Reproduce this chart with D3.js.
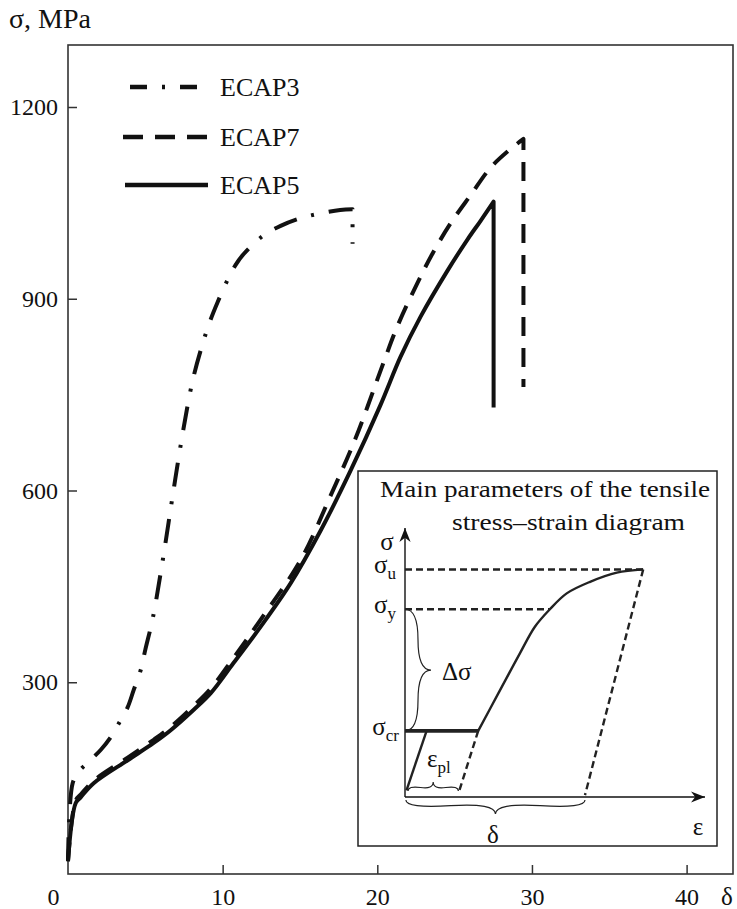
<!DOCTYPE html>
<html>
<head>
<meta charset="utf-8">
<script src="https://cdn.jsdelivr.net/npm/d3@7/dist/d3.min.js"></script>
<style>
	body { margin: 0; background: #fff; }
	svg text { font-family: "Liberation Serif", "DejaVu Serif", serif; fill: #111; }
</style>
</head>
<body>
<svg id="svg-port" width="737" height="909"></svg>
<script>
// strain delta, % and stress sigma, MPa
var ecap3Strain = [0, 0.3, 0.69, 1.27, 2.11, 2.76, 3.41, 3.86, 4.25, 4.7, 5.0, 5.48, 6.12, 6.77, 7.42, 8.06, 8.71, 9.2, 9.68, 10.33, 10.84, 11.36, 12.58, 13.75, 15.04, 16.2, 17.6, 18.4];
var ecap3Stress = [20, 142, 160, 174, 194, 214, 241, 261, 288, 319, 351, 400, 490, 592, 690, 772, 830, 866, 895, 930, 953, 970, 998, 1014, 1026, 1033, 1039, 1040];
var ecap3Break = [18.4, 986];

var ecap7Strain = [0, 0.5, 0.85, 1.66, 3.86, 5.54, 6.64, 8.13, 9.23, 10.7, 12.46, 15.04, 16.98, 18.6, 20.4, 21.3, 22.6, 23.6, 24.74, 26.03, 27.32, 28.5, 29.45];
var ecap7Stress = [20, 115, 125, 146, 182, 210, 230, 263, 290, 338, 398, 491, 592, 682, 800, 857, 925, 972, 1018, 1062, 1105, 1132, 1150];
var ecap7Break = [29.45, 762];

var ecap5Strain = [0, 0.5, 0.82, 1.66, 3.86, 5.54, 6.64, 8.13, 9.23, 10.7, 12.46, 14.4, 16.33, 18.27, 20.21, 21.5, 22.8, 24.54, 25.84, 26.68, 27.52];
var ecap5Stress = [20, 111, 120, 142, 178, 205, 225, 257, 283, 330, 387, 455, 537, 631, 734, 809, 872, 944, 993, 1022, 1052];
var ecap5Break = [27.52, 730];

var seriesNames = ['ECAP3', 'ECAP7', 'ECAP5'];
var xTicks = [0, 10, 20, 30, 40];
var yTicks = [300, 600, 900, 1200];

// inset: schematic diagram, arbitrary units 0..100 on both axes
var insetElastic = [[0.5, 2.5], [7.2, 24.6]];
var insetHardening = [[24.4, 24.6], [31.1, 38.5], [38.3, 53.4], [43.3, 63.3], [48.3, 69.8], [53.9, 75.7], [61.7, 80], [70.6, 83.4], [79.4, 84.6]];
var insetLevels = {u: 84.6, y: 69.8, cr: 24.6};
var insetUnload1 = [[24.4, 24.6], [17.8, 1.3]];
var insetUnload2 = [[79.4, 84.6], [60, 0.7]];

var dashStyles = {
	ECAP3: '24,15,3,15',
	ECAP7: '19,12',
	ECAP5: null
};

function bracePath(x1, y1, x2, y2, w, q) {
	var dx = x1 - x2, dy = y1 - y2;
	var len = Math.sqrt(dx * dx + dy * dy);
	dx /= len; dy /= len;
	var qx1 = x1 + q * w * dy, qy1 = y1 - q * w * dx;
	var qx2 = (x1 - .25 * len * dx) + (1 - q) * w * dy, qy2 = (y1 - .25 * len * dy) - (1 - q) * w * dx;
	var tx1 = (x1 - .5 * len * dx) + w * dy, ty1 = (y1 - .5 * len * dy) - w * dx;
	var qx3 = x2 + q * w * dy, qy3 = y2 - q * w * dx;
	var qx4 = (x1 - .75 * len * dx) + (1 - q) * w * dy, qy4 = (y1 - .75 * len * dy) - (1 - q) * w * dx;
	return 'M' + x1 + ',' + y1 + 'Q' + qx1 + ',' + qy1 + ' ' + qx2 + ',' + qy2 + 'T' + tx1 + ',' + ty1 +
		'M' + x2 + ',' + y2 + 'Q' + qx3 + ',' + qy3 + ' ' + qx4 + ',' + qy4 + 'T' + tx1 + ',' + ty1;
}

function DrawChart() {
	var svg = d3.select('#svg-port');
	var margin = {left: 68, top: 45, right: 733, bottom: 874};

	var x = d3.scaleLinear().domain([0, 43]).range([margin.left, margin.right]);
	var y = d3.scaleLinear().domain([0, 1297]).range([margin.bottom, margin.top]);

	// frame
	svg.append('rect')
		.attr('x', margin.left).attr('y', margin.top)
		.attr('width', margin.right - margin.left)
		.attr('height', margin.bottom - margin.top)
		.attr('fill', 'none')
		.attr('stroke', '#333')
		.attr('stroke-width', 1.6);

	var yAxis = svg.append('g')
		.attr('transform', 'translate(' + margin.left + ',0)')
		.call(d3.axisLeft(y).tickValues(yTicks).tickFormat(d3.format('d')).tickSize(-9).tickPadding(10));
	var xAxis = svg.append('g')
		.attr('transform', 'translate(0,' + margin.bottom + ')')
		.call(d3.axisBottom(x).tickValues(xTicks).tickFormat(d3.format('d')).tickSize(-9).tickPadding(14));
	[xAxis, yAxis].forEach(function (ax) {
		ax.select('.domain').remove();
		ax.selectAll('line').attr('stroke', '#333').attr('stroke-width', 1.5);
		ax.selectAll('text').attr('font-size', 24).attr('fill', '#111')
			.style('font-family', '"Liberation Serif", serif');
	});
	xAxis.selectAll('.tick').filter(function (d) { return d === 0; })
		.select('text').attr('dx', -15);
	xAxis.selectAll('.tick').filter(function (d) { return d === 0; })
		.select('line').remove();

	svg.append('text').attr('x', 9).attr('y', 28).attr('font-size', 28).text('σ, MPa');
	svg.append('text').attr('x', 727).attr('y', 905).attr('text-anchor', 'middle').attr('font-size', 25).text('δ');

	// curves
	var line = d3.line()
		.x(function (d) { return x(d[0]); })
		.y(function (d) { return y(d[1]); })
		.curve(d3.curveCatmullRom.alpha(0.5));

	var series = [
		{name: 'ECAP3', strain: ecap3Strain, stress: ecap3Stress, brk: ecap3Break},
		{name: 'ECAP7', strain: ecap7Strain, stress: ecap7Stress, brk: ecap7Break},
		{name: 'ECAP5', strain: ecap5Strain, stress: ecap5Stress, brk: ecap5Break}
	];

	var curves = svg.append('g').attr('class', 'curves');
	series.forEach(function (s) {
		var pts = s.strain.map(function (v, i) { return [v, s.stress[i]]; });
		var d = line(pts) + 'L' + x(s.brk[0]) + ',' + y(s.brk[1]);
		curves.append('path')
			.attr('d', d)
			.attr('fill', 'none')
			.attr('stroke', '#111')
			.attr('stroke-width', 4)
			.attr('stroke-linejoin', 'round')
			.attr('stroke-dasharray', dashStyles[s.name]);
	});

	// legend
	var legendRows = [
		{x1: 130, x2: 200, cy: 87},
		{x1: 123, x2: 208, cy: 137},
		{x1: 125, x2: 208, cy: 185}
	];
	var legend = svg.append('g').attr('class', 'legend');
	seriesNames.forEach(function (name, i) {
		var r = legendRows[i];
		legend.append('line')
			.attr('x1', r.x1).attr('x2', r.x2)
			.attr('y1', r.cy).attr('y2', r.cy)
			.attr('stroke', '#111')
			.attr('stroke-width', 4.5)
			.attr('stroke-dasharray', name === 'ECAP3' ? '17,15,3,15' : name === 'ECAP7' ? '20,12' : null);
		legend.append('text')
			.attr('x', 220).attr('y', r.cy + 9)
			.attr('font-size', 26)
			.text(name);
	});

	DrawInset(svg);
}

function DrawInset(svg) {
	var box = {x: 358, y: 471, w: 359, h: 375};
	var g = svg.append('g').attr('class', 'inset');
	g.append('rect')
		.attr('x', box.x).attr('y', box.y)
		.attr('width', box.w).attr('height', box.h)
		.attr('fill', '#fff')
		.attr('stroke', '#222')
		.attr('stroke-width', 1.5);

	g.append('text').attr('x', 380).attr('y', 497).attr('font-size', 24)
		.attr('textLength', 330).attr('lengthAdjust', 'spacingAndGlyphs')
		.text('Main parameters of the tensile');
	g.append('text').attr('x', 452).attr('y', 530).attr('font-size', 24)
		.attr('textLength', 233).attr('lengthAdjust', 'spacingAndGlyphs')
		.text('stress\u2013strain diagram');

	var ex = d3.scaleLinear().domain([0, 100]).range([405, 705]);
	var sy = d3.scaleLinear().domain([0, 100]).range([797, 528]);

	var defs = svg.append('defs');
	defs.append('marker')
		.attr('id', 'arrow')
		.attr('viewBox', '0 0 10 10')
		.attr('refX', 10).attr('refY', 5)
		.attr('markerWidth', 14).attr('markerHeight', 14)
		.attr('markerUnits', 'userSpaceOnUse')
		.attr('orient', 'auto')
		.append('path')
		.attr('d', 'M0,1 L10,5 L0,9 L3,5 Z')
		.attr('fill', '#111');

	g.append('line')
		.attr('x1', ex(0)).attr('y1', sy(0)).attr('x2', ex(100)).attr('y2', sy(0))
		.attr('stroke', '#111').attr('stroke-width', 1.4).attr('marker-end', 'url(#arrow)');
	g.append('line')
		.attr('x1', ex(0)).attr('y1', sy(0)).attr('x2', ex(0)).attr('y2', sy(100))
		.attr('stroke', '#111').attr('stroke-width', 1.4).attr('marker-end', 'url(#arrow)');

	var lin = d3.line().x(function (d) { return ex(d[0]); }).y(function (d) { return sy(d[1]); });
	var crv = d3.line().x(function (d) { return ex(d[0]); }).y(function (d) { return sy(d[1]); })
		.curve(d3.curveCatmullRom.alpha(0.5));

	// dashed level lines and unloading lines
	var dashed = [
		[[0, insetLevels.u], insetHardening[insetHardening.length - 1]],
		[[0, insetLevels.y], [48.3, insetLevels.y]],
		insetUnload1,
		insetUnload2
	];
	dashed.forEach(function (pts) {
		g.append('path').attr('d', lin(pts))
			.attr('fill', 'none').attr('stroke', '#222')
			.attr('stroke-width', 2.4).attr('stroke-dasharray', '7,4');
	});

	g.append('path').attr('d', lin(insetElastic))
		.attr('fill', 'none').attr('stroke', '#222').attr('stroke-width', 2.4);
	g.append('path').attr('d', crv(insetHardening))
		.attr('fill', 'none').attr('stroke', '#222').attr('stroke-width', 2.4);
	g.append('path').attr('d', lin([[0, insetLevels.cr], [24.4, insetLevels.cr]]))
		.attr('fill', 'none').attr('stroke', '#222').attr('stroke-width', 3.6);

	// braces
	g.append('path').attr('d', bracePath(ex(0.3), sy(0) + 3, ex(60), sy(0) + 3, 14, 0.6))
		.attr('fill', 'none').attr('stroke', '#222').attr('stroke-width', 1.2);
	g.append('path').attr('d', bracePath(ex(17.8), sy(2.2), ex(1), sy(2.2), 9, 0.6))
		.attr('fill', 'none').attr('stroke', '#222').attr('stroke-width', 1.2);
	g.append('path').attr('d', bracePath(ex(0), sy(insetLevels.cr), ex(0), sy(insetLevels.y), 26, 0.5))
		.attr('fill', 'none').attr('stroke', '#222').attr('stroke-width', 1.2);

	function sub(base, subTxt, xx, yy, anchor) {
		var t = g.append('text').attr('x', xx).attr('y', yy).attr('font-size', 25)
			.attr('text-anchor', anchor || 'start');
		t.append('tspan').text(base);
		t.append('tspan').attr('font-size', 17).attr('dy', 6).text(subTxt);
		return t;
	}
	g.append('text').attr('x', ex(-6)).attr('y', sy(92)).attr('font-size', 25).attr('text-anchor', 'middle').text('σ');
	sub('σ', 'u', ex(-3), sy(insetLevels.u) + 4, 'end');
	sub('σ', 'y', ex(-3), sy(insetLevels.y) + 4, 'end');
	sub('σ', 'cr', ex(-2), sy(insetLevels.cr) + 4, 'end');
	sub('ε', 'pl', ex(7.3), sy(11), 'start');
	g.append('text').attr('x', ex(12.3)).attr('y', sy(43.5)).attr('font-size', 25).text('Δσ');
	g.append('text').attr('x', ex(29.3)).attr('y', 843).attr('font-size', 25).attr('text-anchor', 'middle').text('δ');
	g.append('text').attr('x', ex(97.7)).attr('y', 835).attr('font-size', 25).attr('text-anchor', 'middle').text('ε');
}

document.addEventListener('DOMContentLoaded', DrawChart);
</script>
</body>
</html>
